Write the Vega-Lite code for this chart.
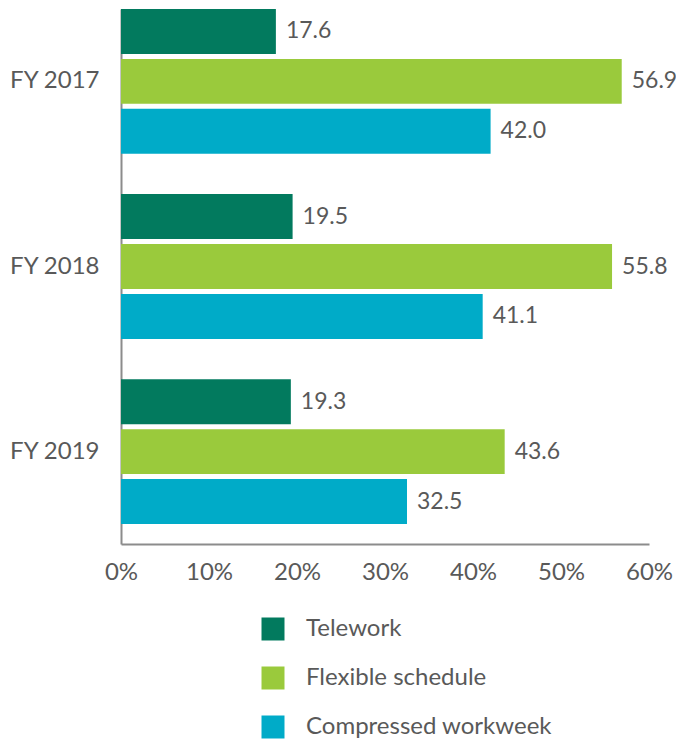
{
  "$schema": "https://vega.github.io/schema/vega-lite/v6.json",
  "width": 528,
  "height": 535,
  "autosize": "none",
  "padding": {"left": 121, "top": 9, "right": 27, "bottom": 196},
  "config": {
    "font": "Lato",
    "view": {"stroke": null},
    "axis": {"domainColor": "#8c8c8c", "domainWidth": 2, "ticks": false, "grid": false, "labelFontSize": 24, "labelColor": "#595959", "title": null}
  },
  "data": {
    "values": [
      {"year": "FY 2017", "type": "Telework", "value": 17.6},
      {"year": "FY 2017", "type": "Flexible schedule", "value": 56.9},
      {"year": "FY 2017", "type": "Compressed workweek", "value": 42.0},
      {"year": "FY 2018", "type": "Telework", "value": 19.5},
      {"year": "FY 2018", "type": "Flexible schedule", "value": 55.8},
      {"year": "FY 2018", "type": "Compressed workweek", "value": 41.1},
      {"year": "FY 2019", "type": "Telework", "value": 19.3},
      {"year": "FY 2019", "type": "Flexible schedule", "value": 43.6},
      {"year": "FY 2019", "type": "Compressed workweek", "value": 32.5}
    ]
  },
  "encoding": {
    "y": {
      "field": "year", "type": "nominal",
      "scale": {"paddingInner": 0.218, "paddingOuter": 0.054, "align": 0},
      "axis": {"labelPadding": 22}
    },
    "yOffset": {
      "field": "type", "type": "nominal",
      "sort": ["Telework", "Flexible schedule", "Compressed workweek"],
      "scale": {"paddingInner": 0.1, "paddingOuter": 0}
    },
    "x": {
      "field": "value", "type": "quantitative",
      "scale": {"domain": [0, 60]},
      "axis": {"values": [0, 10, 20, 30, 40, 50, 60], "labelExpr": "datum.value + '%'", "labelPadding": 16, "labelFlush": false}
    }
  },
  "layer": [
    {
      "mark": {"type": "bar"},
      "encoding": {
        "color": {
          "field": "type", "type": "nominal",
          "scale": {"domain": ["Telework", "Flexible schedule", "Compressed workweek"], "range": ["#027A5E", "#9ACA3C", "#00ABC8"]},
          "legend": {
            "orient": "none", "legendX": 140, "legendY": 608, "title": null,
            "symbolType": "square", "symbolSize": 529, "symbolStrokeWidth": 0, "symbolOpacity": 1,
            "labelFontSize": 24, "labelColor": "#595959", "labelLimit": 400, "rowPadding": 25, "labelOffset": 21, "padding": 0
          }
        }
      }
    },
    {
      "mark": {"type": "text", "align": "left", "baseline": "middle", "dx": 10, "fontSize": 23, "color": "#595959"},
      "encoding": {"text": {"field": "value", "type": "quantitative", "format": ".1f"}}
    }
  ]
}
